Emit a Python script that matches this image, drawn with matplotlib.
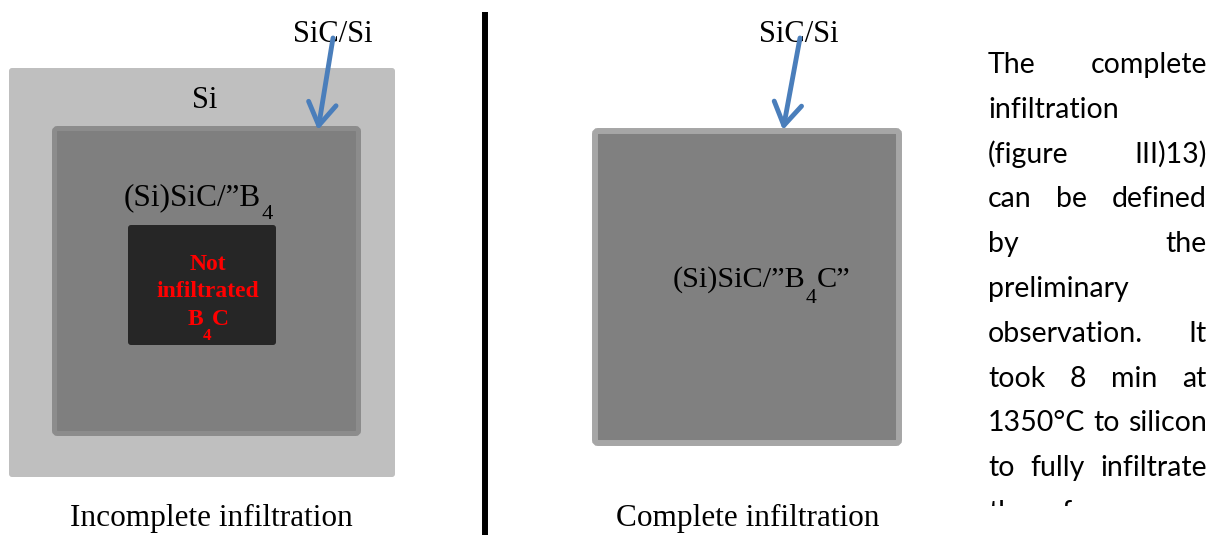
import matplotlib.pyplot as plt
from matplotlib.patches import FancyBboxPatch, Rectangle

# labels of the two sketches
top_label = "SiC/Si"
outer_label = "Si"
core_parts_left = [("(Si)SiC/”B", False), ("4", True)]
core_parts_right = [("(Si)SiC/”B", False), ("4", True), ("C”", False)]
dark_lines = ["Not", "infiltrated"]
dark_last = [("B", False), ("4", True), ("C", False)]
captions = ["Incomplete infiltration", "Complete infiltration"]

# side paragraph, one list of words per printed line
para_lines = [
    ["The", "complete"],
    ["infiltration"],
    ["(figure", "III)13)"],
    ["can", "be", "defined"],
    ["by", "the"],
    ["preliminary"],
    ["observation.", "It"],
    ["took", "8", "min", "at"],
    ["1350°C", "to", "silicon"],
    ["to", "fully", "infiltrate"],
    ["the", "of", "our", "core"],
]
justified = [True, False, True, True, True, False, True, True, True, True, True]

SERIF = "Liberation Serif"
SANS = "Lato"
BLUE = "#4a7ebb"

fig = plt.figure(figsize=(12.18, 5.35), dpi=100)
ax = fig.add_axes([0, 0, 1, 1])
ax.set_xlim(0, 1218)
ax.set_ylim(535, 0)
ax.axis("off")
renderer = fig.canvas.get_renderer()


def box(x0, y0, x1, y1, fc, ec="none", lw=0):
    p = FancyBboxPatch((x0, y0), x1 - x0, y1 - y0,
                       boxstyle="round,pad=0,rounding_size=3",
                       fc=fc, ec=ec, lw=lw)
    ax.add_patch(p)


def chem(x, y, parts, size, drop, ha="left", **kw):
    # text with subscripts, built piece by piece
    texts = []
    for s, sub in parts:
        fs = size * 0.72 if sub else size
        yy = y + drop if sub else y
        t = ax.text(0, yy, s, fontsize=fs, family=SERIF, va="baseline", ha="left", **kw)
        texts.append(t)
    widths = [t.get_window_extent(renderer).width for t in texts]
    if ha == "center":
        x = x - sum(widths) / 2
    for t, w in zip(texts, widths):
        t.set_x(x)
        x += w


def justify(words, y, x0, x1, full, **kw):
    texts = [ax.text(0, y, w, va="baseline", ha="left", **kw) for w in words]
    widths = [t.get_window_extent(renderer).width for t in texts]
    if len(words) == 1 or not full:
        gap = 8
    else:
        gap = (x1 - x0 - sum(widths)) / (len(words) - 1)
    x = x0
    for t, w in zip(texts, widths):
        t.set_x(x)
        x += w + gap
    return texts


# left sketch: incomplete infiltration
box(9, 68, 395, 477, "#bfbfbf")
box(54.5, 128.5, 358.5, 433.5, "#7f7f7f", ec="#8c8c8c", lw=3.6)
box(128, 225, 276, 345, "#262626")
ax.text(205, 108, outer_label, fontsize=22, family=SERIF, ha="center", va="baseline")
ax.text(333, 42, top_label, fontsize=22, family=SERIF, ha="center", va="baseline")
chem(124, 205, core_parts_left, 22.5, 14)
for i, s in enumerate(dark_lines):
    ax.text(208, 270 + 27 * i, s, fontsize=17, family=SERIF, weight="bold",
            color="red", ha="center", va="baseline")
chem(208, 325, dark_last, 17, 15, ha="center", weight="bold", color="red")
ax.annotate("", xy=(318, 130), xytext=(333, 38),
            arrowprops=dict(arrowstyle="->,head_length=0.8,head_width=0.5",
                            lw=3.5, color=BLUE, mutation_scale=20,
                            shrinkA=0, shrinkB=0))
ax.text(211, 526, captions[0], fontsize=22.5, family=SERIF, ha="center", va="baseline")

# divider
ax.plot([485, 485], [12, 535], color="black", lw=4.3, solid_capstyle="butt")

# right sketch: complete infiltration
box(595, 131, 899, 443, "#808080", ec="#a6a6a6", lw=4.3)
ax.text(799, 42, top_label, fontsize=22, family=SERIF, ha="center", va="baseline")
chem(673, 287, core_parts_right, 21.8, 16)
ax.annotate("", xy=(783, 130), xytext=(800, 38),
            arrowprops=dict(arrowstyle="->,head_length=0.8,head_width=0.5",
                            lw=3.5, color=BLUE, mutation_scale=20,
                            shrinkA=0, shrinkB=0))
ax.text(748, 526, captions[1], fontsize=22.5, family=SERIF, ha="center", va="baseline")

# paragraph on the right: size picked so the tightest line fills the column
probe = ax.text(0, 0, "1350°C to silicon", fontsize=20, family=SANS)
psize = 20 * 217 / probe.get_window_extent(renderer).width
probe.remove()

clip = Rectangle((960, 0), 258, 506, transform=ax.transData)
for i, (words, full) in enumerate(zip(para_lines, justified)):
    ts = justify(words, 73 + 44.8 * i, 988, 1207, full, fontsize=psize, family=SANS)
    for t in ts:
        t.set_clip_on(True)
        t.set_clip_path(clip)

fig.savefig("out.png", dpi=100)
